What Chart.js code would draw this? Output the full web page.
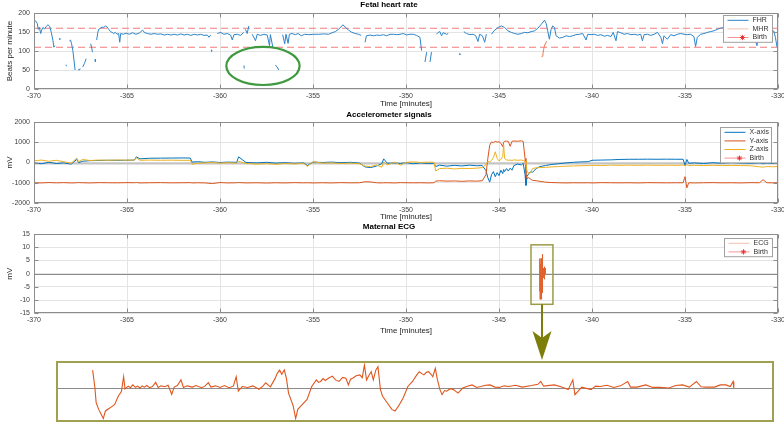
<!DOCTYPE html>
<html>
<head>
<meta charset="utf-8">
<title>Fetal heart rate, accelerometer and maternal ECG</title>
<script src="https://cdn.jsdelivr.net/npm/chart.js@4.4.1/dist/chart.umd.min.js"></script>
<style>
  html, body { margin: 0; padding: 0; background: #fff; width: 784px; height: 422px; overflow: hidden; }
  .panel { position: absolute; }
  canvas { display: block; }
</style>
</head>
<body>
<div class="panel" style="left:0;top:0"><canvas id="fhrChart" width="784" height="110"></canvas></div>
<div class="panel" style="left:0;top:110px"><canvas id="accChart" width="784" height="113"></canvas></div>
<div class="panel" style="left:0;top:222px"><canvas id="ecgChart" width="784" height="140"></canvas></div>
<div class="panel" style="left:55px;top:360px"><canvas id="zoomChart" width="720" height="63"></canvas></div>
<script>
// tick labels
const timeTicks = [-370, -365, -360, -355, -350, -345, -340, -335, -330]
const bpmTicks = [0, 50, 100, 150, 200]
const accTicks = [-2000, -1000, 0, 1000, 2000]
const ecgTicks = [-15, -10, -5, 0, 5, 10, 15]

// normal FHR band (bpm) and birth time (minutes)
const fhrLimits = [110, 160]
const birthTime = [0]

// fetal heart rate, null = signal loss
const fhrTime = [
  -370.00, -369.91, -369.82, -369.77, -369.71, -369.64, -369.59, -369.52, -369.43, -369.34,
  -369.25, -369.16, -369.07, -368.98, -368.93, -368.88, -368.80, -368.63, -368.61, -368.50,
  -368.28, -368.26, -368.20, -368.09, -368.04, -367.98, -367.91, -367.84, -367.79, -367.70,
  -367.63, -367.55, -367.52, -367.45, -367.38, -367.29, -367.25, -367.20, -367.10, -366.95,
  -366.89, -366.86, -366.80, -366.72, -366.70, -366.67, -366.63, -366.57, -366.52, -366.43,
  -366.34, -366.25, -366.16, -366.07, -365.98, -365.89, -365.80, -365.71, -365.63, -365.54,
  -365.45, -365.39, -365.34, -365.20, -365.05, -364.88, -364.70, -364.52, -364.34, -364.16,
  -364.05, -363.89, -363.71, -363.54, -363.36, -363.18, -363.00, -362.82, -362.64, -362.46,
  -362.29, -362.11, -361.93, -361.75, -361.57, -361.39, -361.21, -361.04, -360.86, -360.68,
  -360.59, -360.50, -360.49, -360.47, -360.45, -360.43, -360.14, -359.96, -359.79, -359.61,
  -359.43, -359.34, -359.25, -359.07, -358.89, -358.73, -358.72, -358.71, -358.70, -358.69,
  -358.63, -358.54, -358.45, -358.40, -358.27, -358.09, -358.00, -357.82, -357.64, -357.46,
  -357.34, -357.29, -357.16, -357.10, -357.02, -356.93, -356.84, -356.75, -356.63, -356.52,
  -356.45, -356.34, -356.27, -356.13, -355.95, -355.80, -355.63, -355.45, -355.23, -354.96,
  -354.70, -354.43, -354.16, -353.98, -353.80, -353.63, -353.50, -353.39, -353.27, -353.09,
  -352.91, -352.73, -352.55, -352.41, -352.30, -352.20, -352.13, -351.93, -351.75, -351.57,
  -351.39, -351.21, -351.04, -350.86, -350.68, -350.50, -350.32, -350.14, -349.96, -349.79,
  -349.61, -349.43, -349.25, -349.16, -349.08, -348.98, -348.89, -348.80, -348.71, -348.63,
  -348.50, -348.36, -348.27, -348.18, -348.09, -348.00, -347.82, -347.73, -347.40, -347.12,
  -347.10, -347.00, -346.89, -346.75, -346.57, -346.39, -346.25, -346.13, -346.04, -345.89,
  -345.77, -345.68, -345.55, -345.41, -345.23, -345.05, -344.88, -344.70, -344.52, -344.34,
  -344.16, -343.98, -343.80, -343.63, -343.45, -343.27, -343.09, -342.91, -342.73, -342.55,
  -342.46, -342.38, -342.29, -342.20, -342.11, -342.02, -341.93, -341.75, -341.57, -341.39,
  -341.21, -341.04, -340.86, -340.68, -340.50, -340.32, -340.23, -340.05, -339.88, -339.70,
  -339.52, -339.34, -339.16, -338.98, -338.86, -338.71, -338.63, -338.45, -338.27, -338.09,
  -337.91, -337.73, -337.55, -337.38, -337.29, -337.20, -337.02, -336.84, -336.66, -336.48,
  -336.30, -336.21, -336.13, -335.95, -335.77, -335.59, -335.41, -335.23, -335.05, -334.88,
  -334.70, -334.52, -334.43, -334.34, -334.16, -333.98, -333.80, -333.63, -333.45, -333.27,
  -333.09, -332.91, -332.64, -332.29, -331.93, -331.57, -331.30, -331.13, -331.04, -330.77,
  -330.50, -330.32, -330.23, -330.14, -330.05
]
const fhrBpm = [
  181, 179, 172, 157, 162, 146, 155, 162, 158, 165,
  169, 165, 149, 127, 110, 114, null, 133, 130, null,
  64, 60, null, 127, 129, 119, 101, 71, 50, null,
  51, 50, 54, null, 58, 67, 72, 80, null, 119,
  106, 97, null, 78, 72, null, 129, 149, 157, 160,
  163, 162, 166, 163, 157, 151, 149, 146, 149, 144,
  146, 123, 146, 144, 147, 144, 148, 144, 147, 155,
  148, 146, 144, 146, 144, 145, 142, 144, 142, 144,
  142, 145, 142, 144, 141, 144, 142, 144, 141, 142,
  136, 142, null, 103, 99, null, 146, 149, 144, 146,
  142, 129, 143, 144, 141, 149, null, 62, 54, null,
  157, 146, 166, null, 144, 127, 144, 141, 144, 142,
  114, 143, 110, null, 63, 58, 50, null, 143, 119,
  144, 120, 144, 146, 143, 146, 140, 144, 143, 144,
  144, 145, 144, 148, 151, 157, 163, 169, 163, 155,
  149, 146, 144, 141, null, 123, 140, 142, 140, 142,
  141, 143, 140, 144, 144, 143, 144, 146, 142, 144,
  144, 141, 136, 101, null, 71, 97, null, 71, 97,
  null, 144, 149, 151, 140, 148, 144, 146, null, 93,
  90, null, 151, 146, 143, 144, 140, 125, 144, 140,
  123, 144, null, 144, 155, 162, 166, 162, 153, 149,
  146, 144, 146, 149, 148, 151, 153, 160, 170, 181,
  172, 153, 131, 157, 166, 162, 140, 134, 136, 140,
  138, 140, 143, 144, 146, 129, 144, 143, 144, 141,
  143, 139, 141, 138, 149, 127, 151, 148, 144, 146,
  143, 144, 142, 144, 127, 143, 144, 141, 144, 149,
  136, 119, 140, 131, 143, 140, 144, 146, 144, 143,
  144, 138, 112, 136, 144, 146, 149, 151, 153, 157,
  160, 162, 157, 153, 151, 149, 144, 114, 144, 149,
  153, 149, 153, 136, 110
]

// maternal heart rate (short stretch)
const mhrTime = [-342.72, -342.68, -342.64, -342.60, -342.56, -342.52, -342.48, -342.44]
const mhrBpm = [84, 86, 92, 104, 113, 119, 123, 126]

// accelerometer (mV)
const accTime = [
  -370.0, -369.6, -369.2, -368.8, -368.4, -368.0, -367.7, -367.6, -367.4, -367.0,
  -366.5, -366.0, -365.5, -365.0, -364.6, -364.5, -364.3, -363.8, -363.2, -362.6,
  -362.0, -361.6, -361.5, -361.2, -360.8, -360.4, -360.0, -359.6, -359.1, -359.0,
  -358.6, -358.0, -357.5, -357.0, -356.5, -356.0, -355.5, -355.3, -355.0, -354.5,
  -354.0, -353.5, -353.0, -352.5, -352.2, -351.9, -351.6, -351.3, -351.2, -351.0,
  -350.6, -350.3, -350.0, -349.6, -349.2, -348.8, -348.5, -348.4, -348.2, -347.8,
  -347.4, -347.0, -346.6, -346.2, -345.9, -345.7, -345.6, -345.5, -345.4, -345.3,
  -345.2, -345.1, -345.0, -344.9, -344.8, -344.75, -344.7, -344.6, -344.5, -344.4,
  -344.3, -344.2, -344.0, -343.8, -343.7, -343.6, -343.55, -343.5, -343.4, -343.3,
  -343.2, -343.0, -342.8, -342.5, -342.2, -341.8, -341.4, -341.0, -340.6, -340.2,
  -340.0, -339.5, -339.0, -338.5, -338.0, -337.5, -337.0, -336.5, -336.0, -335.5,
  -335.1, -335.0, -334.9, -334.8, -334.5, -334.0, -333.5, -333.0, -332.5, -332.0,
  -331.5, -331.0, -330.8, -330.6, -330.3, -330.0
]
const accX = [
  -20, -60, 10, -50, -20, -80, 150, -10, 60, 90,
  100, 110, 105, 110, 120, 280, 180, 210, 215, 220,
  225, 220, 20, 40, 10, 30, 0, 20, 10, 280,
  0, -20, 10, -30, -10, -40, -20, -150, 20, 0,
  20, -10, 10, -30, -220, -250, -180, -60, 180, -40,
  -20, -50, -10, -60, -20, -50, -40, -200, -130, -180,
  -140, -170, -130, -160, -150, -400, -750, -970, -600, -450,
  -700, -500, -650, -380, -550, -350, -450, -300, -420, -280,
  -380, -150, -80, -120, -40, -600, -1130, -700, -550, -450,
  -480, -300, -200, -150, -100, -60, -20, 10, 30, 40,
  110, 120, 130, 150, 160, 160, 165, 160, 165, 160,
  160, -150, 150, -40, -20, -50, -10, -40, 0, -30,
  -50, -20, -60, -30, -50, -40
]
const accY = [
  -1000, -1010, -990, -1005, -995, -1010, -1000, -990, -1000, -1010,
  -995, -1000, -1005, -995, -1000, -990, -1010, -1000, -995, -1005,
  -1000, -995, -1010, -1000, -1010, -1040, -990, -1010, -1000, -990,
  -1010, -1000, -1015, -1000, -1010, -995, -1005, -1000, -1010, -1000,
  -1010, -995, -1005, -1000, -950, -960, -1000, -1010, -1000, -1000,
  -1010, -995, -1000, -1005, -1000, -1010, -1000, -920, -900, -920,
  -910, -930, -910, -920, -900, -600, 200, 850, 1020, 980,
  1050, 1000, 1030, 950, 780, 1000, 1050, 1060, 1040, 800,
  1050, 1060, 1050, 1070, 1040, 200, -600, -800, -750, -820,
  -880, -900, -930, -970, -990, -1000, -1010, -1000, -1005, -1000,
  -1010, -995, -1000, -1005, -1000, -1010, -995, -1000, -1005, -1000,
  -1000, -700, -1250, -1000, -1010, -1000, -995, -1005, -1000, -1010,
  -995, -1000, -850, -1000, -1005, -1000
]
const accZ = [
  80, 120, 60, 110, 40, -40, 220, 30, 150, 100,
  120, 110, 125, 115, 120, 230, 110, 120, 110, 115,
  105, 110, -90, -40, -20, 10, -30, -10, -30, 60,
  -50, -80, -60, -90, -50, -70, -40, -200, 40, -30,
  -20, -50, -30, -60, -180, -200, -120, -230, 20, -120,
  20, -130, 10, 30, 0, 20, 10, -420, -300, -280,
  -320, -290, -300, -280, -250, -100, 50, 30, 100, 250,
  530, 200, 80, 150, 300, 870, 200, 130, 110, 120,
  100, 130, 110, 120, 100, 60, -100, -400, -550, -500,
  -300, -260, -250, -240, -220, -200, -180, -170, -160, -150,
  -140, -150, -130, -140, -130, -140, -130, -140, -135, -140,
  -130, -160, -110, -150, -140, -150, -140, -150, -145, -150,
  -160, -210, -230, -200, -210, -200
]

// maternal ECG burst: seconds after ecgStart (minutes), values in mV
const ecgStart = -342.8
const ecgSec = [
  0, 0.06, 0.10, 0.17, 0.30, 0.36, 0.49, 0.62, 0.72, 0.81,
  0.87, 0.91, 1.00, 1.06, 1.13, 1.20, 1.26, 1.33, 1.39, 1.45,
  1.52, 1.60, 1.68, 1.77, 1.84, 1.92, 2.03, 2.12, 2.22, 2.29,
  2.38, 2.48, 2.55, 2.65, 2.80, 2.90, 3.06, 3.15, 3.25, 3.32,
  3.45, 3.58, 3.70, 3.83, 3.95, 4.03, 4.09, 4.20, 4.35, 4.50,
  4.67, 4.78, 4.86, 4.99, 5.12, 5.18, 5.25, 5.31, 5.38, 5.44,
  5.50, 5.63, 5.70, 5.76, 5.89, 6.02, 6.15, 6.28, 6.34, 6.40,
  6.47, 6.53, 6.63, 6.73, 6.82, 6.92, 7.02, 7.11, 7.18, 7.24,
  7.30, 7.40, 7.50, 7.57, 7.63, 7.69, 7.76, 7.82, 7.88, 7.95,
  8.01, 8.08, 8.14, 8.27, 8.40, 8.49, 8.59, 8.72, 8.85, 8.98,
  9.10, 9.17, 9.24, 9.30, 9.37, 9.43, 9.50, 9.55, 9.62, 9.68,
  9.75, 9.81, 9.88, 9.94, 10.04, 10.13, 10.26, 10.39, 10.52, 10.65,
  10.78, 10.90, 11.03, 11.16, 11.29, 11.42, 11.55, 11.68, 11.87, 12.06,
  12.32, 12.50, 12.58, 12.66, 12.96, 13.15, 13.35, 13.48, 13.54, 13.73,
  13.99, 14.12, 14.25, 14.44, 14.63, 14.82, 15.02, 15.10, 15.28, 15.53,
  15.72, 15.92, 16.18, 16.37, 16.56, 16.75, 16.95, 17.08, 17.21, 17.46,
  17.62, 17.78, 17.90, 17.98, 18.00
]
const ecgMv = [
  5.7, 0.5, -4.7, -6.8, -9.7, -7.3, -6.3, -5.2, -2.6, -1.0,
  3.6, -0.3, 0.6, 0.1, 1.0, 0.2, 0.6, 0.0, 0.7, 0.3,
  0.8, 0.1, 0.5, 1.8, 0.2, 0.7, 0.4, 0.9, -2.0, 0.3,
  0.8, 2.6, 0.2, 0.7, 0.3, 0.8, 0.1, 0.6, 1.7, 0.3,
  0.7, 0.2, 0.8, 0.1, 0.6, 3.6, -1.0, 0.5, 0.2, 0.7,
  -0.4, 0.6, 1.7, 0.4, 3.0, 4.6, 5.7, 4.4, 5.8, 3.1,
  -1.6, -5.7, -9.7, -6.8, -5.2, -3.6, 0.5, 2.6, 1.8, 2.1,
  3.0, 2.4, 3.2, 3.8, 2.6, 2.1, 3.4, 3.1, 1.0, 2.8,
  3.1, 3.9, 4.2, 3.3, 7.3, 2.6, 4.1, 5.2, 2.6, 5.7,
  6.8, -0.5, -2.6, -4.7, -6.8, -7.3, -5.7, -3.1, 0.5, 2.1,
  4.2, 5.2, 4.6, 4.2, 5.0, 5.2, 4.4, 3.6, 6.3, 2.6,
  -0.5, -2.1, -0.8, -1.0, -0.2, -0.5, -1.6, 0.0, 0.6, 1.0,
  0.2, 0.5, 0.9, 1.0, 0.3, 0.2, 0.7, 0.5, 0.9, 0.3,
  0.8, 1.2, 2.1, 0.6, 1.0, 0.4, -0.5, 2.6, -2.1, 0.3,
  -0.5, 0.6, 0.5, 0.9, 0.2, 0.7, 2.1, 0.3, 0.3, 1.0,
  0.2, 0.2, 0.0, 0.8, 1.0, 0.3, 2.1, 0.4, 0.3, 0.3,
  1.0, 1.0, 0.5, 2.1, 0.0
]

// highlighted regions
const markTime = [-359.66, -355.72]
const markBpm = [10.5, 111]
const zoomBoxTime = [-343.28, -342.1]
const zoomBoxMv = [-11.6, 10.9]

Chart.defaults.font.family = '"Liberation Sans", Arial, Helvetica, sans-serif'
Chart.defaults.font.size = 7
Chart.defaults.color = '#404040'

const gridColor = '#e4e4e4'
const pts = (xs, ys) => xs.map((x, i) => ({ x, y: ys[i] }))

const lineDs = (label, data, color, extra) => Object.assign({
  label, data, borderColor: color, backgroundColor: color,
  borderWidth: 1, pointRadius: 0, tension: 0, fill: false, inLegend: true
}, extra)

function drawStar(ctx, x, y, r) {
  ctx.beginPath()
  for (let k = 0; k < 4; k++) {
    const a = k * Math.PI / 4
    ctx.moveTo(x - r * Math.cos(a), y - r * Math.sin(a))
    ctx.lineTo(x + r * Math.cos(a), y + r * Math.sin(a))
  }
  ctx.stroke()
}

// axes box + inward tick marks, matlab style
const matlabFrame = {
  id: 'matlabFrame',
  afterDatasetsDraw(chart) {
    const { ctx, chartArea: a, scales: { x, y } } = chart
    const L = Math.round(a.left) + 0.5, R = Math.round(a.right) - 0.5
    const T = Math.round(a.top) + 0.5, B = Math.round(a.bottom) - 0.5
    ctx.save()
    ctx.strokeStyle = '#8c8c8c'
    ctx.lineWidth = 1
    ctx.strokeRect(L, T, R - L, B - T)
    ctx.beginPath()
    x.ticks.forEach(t => {
      const px = Math.round(x.getPixelForValue(t.value)) + 0.5
      ctx.moveTo(px, B); ctx.lineTo(px, B - 4)
      ctx.moveTo(px, T); ctx.lineTo(px, T + 4)
    })
    y.ticks.forEach(t => {
      const py = Math.round(y.getPixelForValue(t.value)) + 0.5
      ctx.moveTo(L, py); ctx.lineTo(L + 4, py)
      ctx.moveTo(R, py); ctx.lineTo(R - 4, py)
    })
    ctx.stroke()
    ctx.restore()
  }
}

// grey reference line at 0
const zeroLine = {
  id: 'zeroLine',
  beforeDatasetsDraw(chart, args, opts) {
    const { ctx, chartArea: a, scales: { y } } = chart
    const py = Math.round(y.getPixelForValue(0)) + 0.5
    ctx.save()
    ctx.strokeStyle = opts.color
    ctx.lineWidth = opts.width
    ctx.beginPath(); ctx.moveTo(a.left, py); ctx.lineTo(a.right, py); ctx.stroke()
    ctx.restore()
  }
}

// legend box inside the plot, top right
const boxLegend = {
  id: 'boxLegend',
  afterDraw(chart, args, opts) {
    const items = chart.data.datasets.filter(d => d.inLegend)
    const { ctx, chartArea } = chart
    const rowH = 8.6, pad = 4.8
    const w = opts.width, h = pad * 2 + rowH * (items.length - 1)
    const x0 = Math.round(chartArea.right - opts.right - w) + 0.5
    const y0 = Math.round(chartArea.top + opts.top) + 0.5
    ctx.save()
    ctx.fillStyle = '#fff'
    ctx.fillRect(x0, y0, w, h)
    ctx.strokeStyle = '#a0a0a0'
    ctx.lineWidth = 1
    ctx.strokeRect(x0, y0, w, h)
    ctx.font = '7px "Liberation Sans", Arial, sans-serif'
    ctx.textBaseline = 'middle'
    items.forEach((d, i) => {
      const y = y0 + pad + i * rowH
      ctx.strokeStyle = d.legendColor || d.borderColor
      ctx.lineWidth = 1
      ctx.beginPath(); ctx.moveTo(x0 + 4, y); ctx.lineTo(x0 + 25, y); ctx.stroke()
      if (d.pointStyle === 'star') {
        ctx.strokeStyle = 'rgba(235,40,40,0.9)'
        drawStar(ctx, x0 + 19, y, 2.6)
      }
      ctx.fillStyle = '#333'
      ctx.fillText(d.label, x0 + 29, y)
    })
    ctx.restore()
  }
}

const markEllipse = {
  id: 'markEllipse',
  afterDraw(chart) {
    const { ctx, scales: { x, y } } = chart
    const xa = x.getPixelForValue(markTime[0]), xb = x.getPixelForValue(markTime[1])
    const ya = y.getPixelForValue(markBpm[1]), yb = y.getPixelForValue(markBpm[0])
    ctx.save()
    ctx.strokeStyle = '#3f9a3f'
    ctx.lineWidth = 2.2
    ctx.beginPath()
    ctx.ellipse((xa + xb) / 2, (ya + yb) / 2, (xb - xa) / 2, (yb - ya) / 2, 0, 0, Math.PI * 2)
    ctx.stroke()
    ctx.restore()
  }
}

const zoomMarker = {
  id: 'zoomMarker',
  afterDraw(chart) {
    const { ctx, scales: { x, y } } = chart
    const x0 = x.getPixelForValue(zoomBoxTime[0]), x1 = x.getPixelForValue(zoomBoxTime[1])
    const yTop = y.getPixelForValue(zoomBoxMv[1]), yBot = y.getPixelForValue(zoomBoxMv[0])
    ctx.save()
    ctx.strokeStyle = '#9c9c48'
    ctx.lineWidth = 1.5
    ctx.strokeRect(x0, yTop, x1 - x0, yBot - yTop)
    const ax = Math.round((x0 + x1) / 2), tip = chart.height - 2
    ctx.strokeStyle = '#7d7d0a'
    ctx.fillStyle = '#7d7d0a'
    ctx.lineWidth = 2
    ctx.beginPath(); ctx.moveTo(ax, yBot); ctx.lineTo(ax, tip - 20); ctx.stroke()
    ctx.beginPath()
    ctx.moveTo(ax - 9.5, tip - 29)
    ctx.lineTo(ax, tip - 22)
    ctx.lineTo(ax + 9.5, tip - 29)
    ctx.lineTo(ax, tip)
    ctx.closePath()
    ctx.fill()
    ctx.restore()
  }
}

const insetFrame = {
  id: 'insetFrame',
  afterDraw(chart) {
    const { ctx, chartArea: a } = chart
    ctx.save()
    ctx.strokeStyle = '#a0a050'
    ctx.lineWidth = 2
    ctx.strokeRect(a.left, a.top, a.right - a.left, a.bottom - a.top)
    ctx.restore()
  }
}

function timeAxis(height, titleBottom) {
  return {
    type: 'linear',
    min: timeTicks[0],
    max: timeTicks[timeTicks.length - 1],
    afterBuildTicks: s => { s.ticks = timeTicks.map(v => ({ value: v })) },
    afterFit: s => { s.height = height; s.paddingLeft = 0; s.paddingRight = 0 },
    grid: { color: gridColor, drawTicks: false },
    border: { display: false },
    ticks: { padding: 3, maxRotation: 0, autoSkip: false, callback: v => String(v) },
    title: {
      display: true, text: 'Time [minutes]', color: '#262626',
      font: { size: 8 }, padding: { top: 0, bottom: titleBottom }
    }
  }
}

function valueAxis(ticksArr, label) {
  return {
    type: 'linear',
    min: ticksArr[0],
    max: ticksArr[ticksArr.length - 1],
    afterBuildTicks: s => { s.ticks = ticksArr.map(v => ({ value: v })) },
    afterFit: s => { s.width = 34; s.paddingTop = 0; s.paddingBottom = 0 },
    grid: { color: gridColor, drawTicks: false },
    border: { display: false },
    ticks: { padding: 4, callback: v => String(v) },
    title: {
      display: true, text: label, color: '#262626',
      font: { size: 8 }, padding: { top: 5, bottom: 0 }
    }
  }
}

function panelOptions(cfg) {
  return {
    responsive: false,
    animation: false,
    events: [],
    layout: { padding: { left: 0, right: 6, top: 0, bottom: cfg.padBottom || 0 } },
    scales: { x: timeAxis(cfg.xHeight, cfg.xTitleBottom), y: cfg.y },
    plugins: {
      legend: { display: false },
      tooltip: { enabled: false },
      title: {
        display: true, text: cfg.title, color: '#000',
        font: { size: 8, weight: 'bold' }, padding: { top: 0, bottom: cfg.titleBottom }
      },
      boxLegend: cfg.legend,
      zeroLine: cfg.zero || { color: 'rgba(0,0,0,0)', width: 0 }
    }
  }
}

const flatLine = v => [timeTicks[0], timeTicks[timeTicks.length - 1]].map(x => ({ x, y: v }))
const birthDs = y => lineDs('Birth', birthTime.map(t => ({ x: t, y })), 'rgba(240,60,60,0.75)', {
  pointStyle: 'star', legendColor: 'rgba(240,60,60,0.55)'
})

// panel 1: fetal heart rate
new Chart(document.getElementById('fhrChart'), {
  type: 'line',
  data: {
    datasets: [
      lineDs('FHR', pts(fhrTime, fhrBpm), '#2c84c9', { order: 2 }),
      lineDs('MHR', pts(mhrTime, mhrBpm), '#ea7a55', { order: 1, legendColor: 'rgba(217,83,25,0.35)' }),
      birthDs(0),
      ...fhrLimits.map(v => lineDs('limit', flatLine(v), 'rgba(240,90,90,0.8)', {
        borderDash: [7, 4], borderWidth: 1.1, inLegend: false, order: 3
      }))
    ]
  },
  options: panelOptions({
    title: 'Fetal heart rate', titleBottom: 3.4, xHeight: 21, xTitleBottom: 1.2,
    y: valueAxis(bpmTicks, 'Beats per minute'),
    legend: { width: 49, right: 6, top: 2 }
  }),
  plugins: [zeroLine, matlabFrame, markEllipse, boxLegend]
})

// panel 2: accelerometer
new Chart(document.getElementById('accChart'), {
  type: 'line',
  data: {
    datasets: [
      lineDs('X-axis', pts(accTime, accX), '#0072bd', { order: 3 }),
      lineDs('Y-axis', pts(accTime, accY), '#d95319', { order: 2 }),
      lineDs('Z-axis', pts(accTime, accZ), '#edb120', { order: 1 }),
      birthDs(0)
    ]
  },
  options: panelOptions({
    title: 'Accelerometer signals', titleBottom: 2.4, xHeight: 20, xTitleBottom: 1.2,
    y: valueAxis(accTicks, 'mV'),
    legend: { width: 51, right: 7, top: 5 },
    zero: { color: '#c4c4c4', width: 2 }
  }),
  plugins: [zeroLine, matlabFrame, boxLegend]
})

// panel 3: maternal ECG
new Chart(document.getElementById('ecgChart'), {
  type: 'line',
  data: {
    datasets: [
      lineDs('ECG', ecgSec.map((s, i) => ({ x: ecgStart + s / 60, y: ecgMv[i] })), '#e0622c', {
        legendColor: 'rgba(217,83,25,0.35)'
      }),
      birthDs(0)
    ]
  },
  options: panelOptions({
    title: 'Maternal ECG', titleBottom: 2.4, xHeight: 23.4, xTitleBottom: 1.2, padBottom: 25.3,
    y: valueAxis(ecgTicks, 'mV'),
    legend: { width: 48, right: 6, top: 4 },
    zero: { color: '#8c8c8c', width: 1 }
  }),
  plugins: [zeroLine, matlabFrame, zoomMarker, boxLegend]
})

// zoomed view of the ECG burst
new Chart(document.getElementById('zoomChart'), {
  type: 'line',
  data: {
    datasets: [lineDs('ECG', pts(ecgSec, ecgMv), '#e0561c', { borderWidth: 1.1 })]
  },
  options: {
    responsive: false,
    animation: false,
    events: [],
    layout: { padding: 2 },
    scales: {
      x: { type: 'linear', display: false, min: -1, max: 19.1 },
      y: { type: 'linear', display: false, min: -10.5, max: 8.3 }
    },
    plugins: {
      legend: { display: false },
      tooltip: { enabled: false },
      zeroLine: { color: '#8c8c8c', width: 1 }
    }
  },
  plugins: [zeroLine, insetFrame]
})
</script>
</body>
</html>
